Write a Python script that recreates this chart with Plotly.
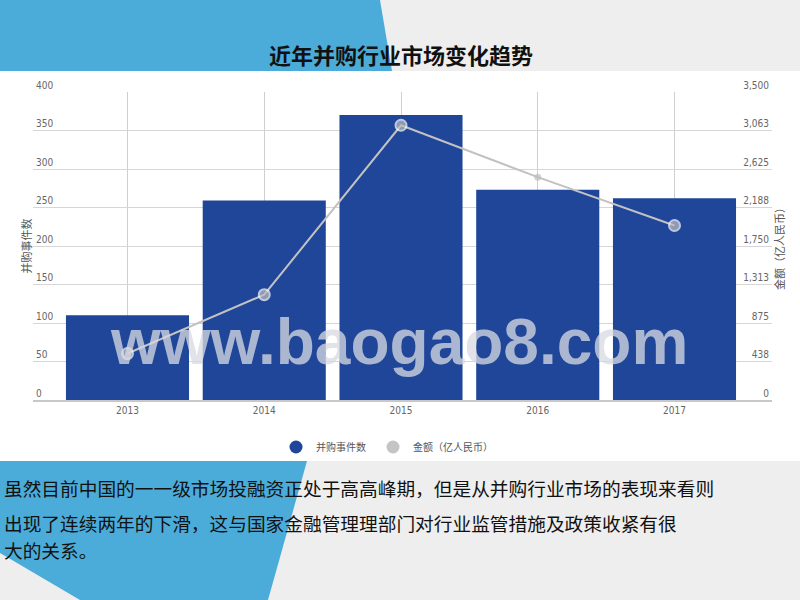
import plotly.graph_objects as go

# ---- data ----
years = ["2013", "2014", "2015", "2016", "2017"]
deals = [110, 259, 370, 273, 262]            # 并购事件数
amount = [528, 1197, 3122, 2532, 1983]       # 金额（亿人民币）
y2_tickvals = [0, 437.5, 875, 1312.5, 1750, 2187.5, 2625, 3062.5, 3500]
y2_ticktext = ["0", "438", "875", "1,313", "1,750", "2,188", "2,625", "3,063", "3,500"]

title_text = "近年并购行业市场变化趋势"
bar_name = "并购事件数"
line_name = "金额（亿人民币）"
body_lines = [
    "虽然目前中国的一一级市场投融资正处于高高峰期，但是从并购行业市场的表现来看则",
    "出现了连续两年的下滑，这与国家金融管理理部门对行业监管措施及政策收紧有很",
    "大的关系。",
]

# ---- layout geometry ----
W, H = 800, 600
L, R, T, B = 33, 772, 92, 400   # plot area in pixels


def X(px):
    return (px - L) / (R - L)


def Y(py):
    return (B - py) / (B - T)


BAR_COLOR = "#1F4699"
LINE_COLOR = "#C2C2C2"
BLUE_BG = "#4BACD9"
CJK = "Noto Sans CJK SC"
NARROW = "Liberation Sans Narrow, DejaVu Sans Condensed, sans-serif"

fig = go.Figure()
fig.add_trace(go.Bar(
    x=years, y=deals, name=bar_name, marker=dict(color=BAR_COLOR, line=dict(width=0)),
    showlegend=False,
))
fig.add_trace(go.Scatter(
    x=years, y=amount, name=line_name, yaxis="y2", mode="lines+markers",
    line=dict(color=LINE_COLOR, width=2),
    marker=dict(color="#BDBDBD", size=[11, 11, 11, 7, 11],
                line=dict(color="white", width=[2, 2, 2, 0, 2])),
    showlegend=False,
))
# legend entries (circle symbols), one legend each for exact spacing
fig.add_trace(go.Scatter(x=[None], y=[None], mode="markers", name=bar_name, legend="legend",
                         marker=dict(color=BAR_COLOR, size=13, symbol="circle")))
fig.add_trace(go.Scatter(x=[None], y=[None], mode="markers", name=line_name, legend="legend2",
                         marker=dict(color="#C4C4C4", size=13, symbol="circle")))


def path(pts):
    s = "M " + " L ".join(f"{X(a):.5f},{Y(b):.5f}" for a, b in pts) + " Z"
    return s


shapes = [
    # white chart panel
    dict(type="rect", xref="paper", yref="paper", x0=X(0), x1=X(800), y0=Y(71), y1=Y(461),
         fillcolor="white", line=dict(width=0), layer="below"),
    # blue decorations
    dict(type="path", xref="paper", yref="paper", path=path([(0, 0), (380, 0), (392, 71), (0, 71)]),
         fillcolor=BLUE_BG, line=dict(width=0), layer="below"),
    dict(type="path", xref="paper", yref="paper",
         path=path([(0, 461), (307, 461), (268, 600), (80, 600), (0, 553)]),
         fillcolor=BLUE_BG, line=dict(width=0), layer="below"),
]

annotations = [
    dict(text="www.baogao8.com", xref="paper", yref="paper", x=X(399), y=Y(342),
         xanchor="center", yanchor="middle", showarrow=False,
         font=dict(family="Liberation Sans, Arial, sans-serif", size=64, color="rgba(215,218,226,0.76)",
                   weight="bold")),
]
for txt, py in zip(body_lines, [487, 522, 549]):
    annotations.append(dict(text=txt, xref="paper", yref="paper", x=X(2), y=Y(py),
                            xanchor="left", yanchor="middle", showarrow=False,
                            font=dict(family=CJK, size=18.7, color="#111111")))

legend_common = dict(orientation="h", xanchor="left", yanchor="middle", y=Y(447),
                     bgcolor="rgba(0,0,0,0)", font=dict(family=CJK, size=10, color="#555555"))

fig.update_layout(
    width=W, height=H, autosize=False,
    margin=dict(l=L, r=W - R, t=T, b=H - B, pad=0),
    paper_bgcolor="#EEEEEE", plot_bgcolor="white",
    bargap=0.1,
    title=dict(text=f"<b>{title_text}</b>", x=401 / W, y=1 - 56 / H, xref="container", yref="container",
               xanchor="center", yanchor="middle",
               font=dict(family=CJK, size=22, color="#111111")),
    xaxis=dict(type="category", range=[-0.691, 4.713], showgrid=True, gridcolor="#CFCFCF", gridwidth=1,
               showline=True, linecolor="#C8C8C8", linewidth=2, ticks="", zeroline=False,
               automargin=False,
               tickfont=dict(family=NARROW, size=10, color="#666666")),
    yaxis=dict(range=[0, 400], dtick=50, showgrid=True, gridcolor="#D6D6D6", gridwidth=1, zeroline=False,
               ticklabelposition="inside top", ticklabeloverflow="allow", ticks="", automargin=False,
               tickfont=dict(family=NARROW, size=10, color="#666666"),
               title=dict(text=bar_name, standoff=2, font=dict(family=CJK, size=11, color="#555555"))),
    yaxis2=dict(range=[0, 3500], overlaying="y", side="right", tickmode="array",
                tickvals=y2_tickvals, ticktext=y2_ticktext, showgrid=False, zeroline=False,
                ticklabelposition="inside top", ticklabeloverflow="allow", ticks="", automargin=False,
                tickfont=dict(family=NARROW, size=10, color="#666666"),
                title=dict(text=line_name, standoff=8, font=dict(family=CJK, size=11, color="#555555"))),
    legend=dict(x=X(276), **legend_common),
    legend2=dict(x=X(373), **legend_common),
    shapes=shapes,
    annotations=annotations,
)

fig.write_html("out.html", config={"displayModeBar": False},
               post_script="document.body.style.margin='0';")
